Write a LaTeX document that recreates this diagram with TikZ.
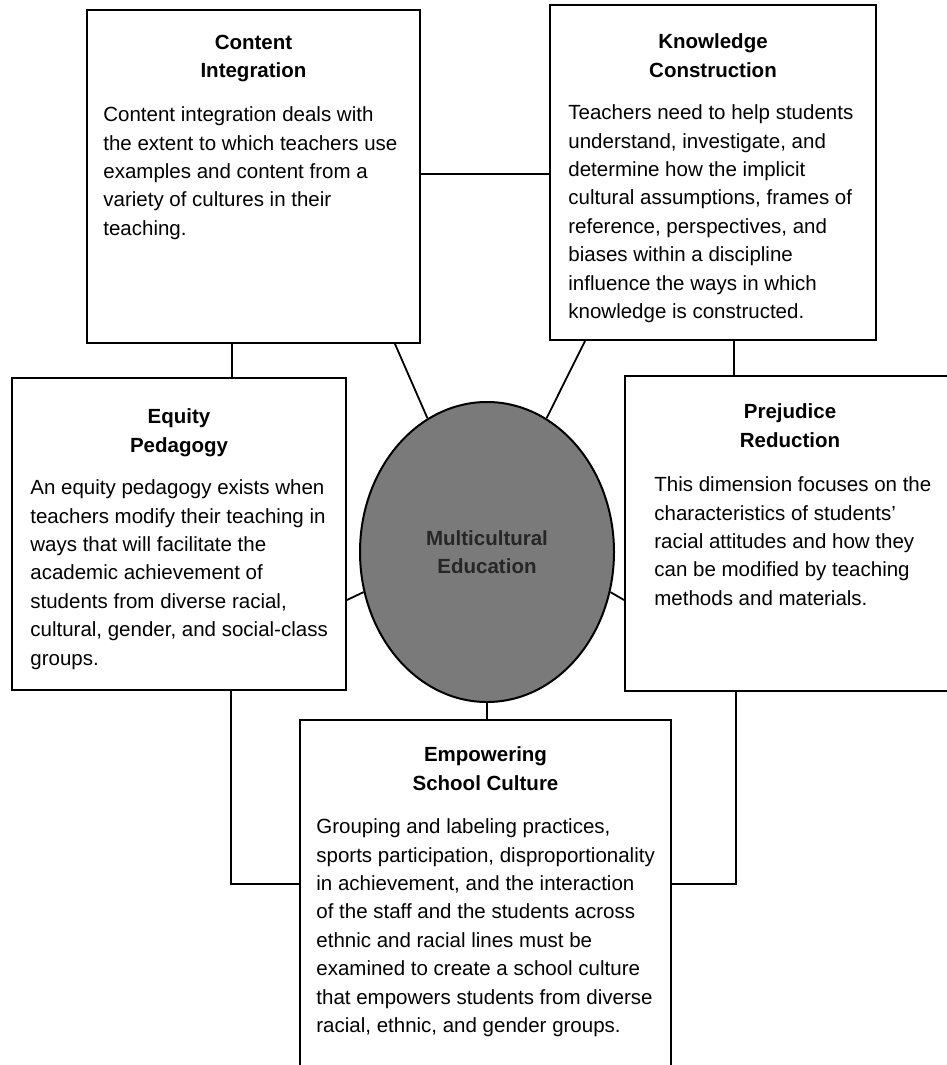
\documentclass[tikz,border=0pt]{standalone}
\usepackage{fontspec}
\setmainfont{Liberation Sans}
\usepackage{tikz}
\usetikzlibrary{shapes,arrows,positioning,calc}

\begin{document}
\begin{tikzpicture}[x=0.5pt,y=-0.5pt,
    dimbox/.style={draw, line width=1pt, inner sep=0pt, fill=white},
    dimtitle/.style={inner sep=0pt, align=center, font=\fontsize{10.25pt}{14.3pt}\selectfont\bfseries},
    dimtext/.style={inner sep=0pt, align=left, font=\fontsize{10.25pt}{14.2pt}\selectfont},
    link/.style={line width=0.9pt}]
    \useasboundingbox (0,0) rectangle (947,1065);
    \clip (0,0) rectangle (947,1065);

    % Boxes
    \node[dimbox, minimum width=166.5pt, minimum height=166.5pt] (ci) at (253.5,176.5) {};
    \node[dimbox, minimum width=163pt, minimum height=167.5pt] (kc) at (713,172.5) {};
    \node[dimbox, minimum width=167pt, minimum height=156pt] (ep) at (179,534) {};
    \node[dimbox, minimum width=165pt, minimum height=157.5pt] (pr) at (790,533.5) {};
    \node[dimbox, minimum width=185.5pt, minimum height=185pt] (esc) at (485.5,905) {};

    % Centre
    \node[ellipse, draw, line width=1pt, fill=black!52, minimum width=127pt, minimum height=150pt,
          inner sep=0pt, align=center, text=black!85,
          font=\fontsize{10.25pt}{14pt}\selectfont\bfseries] (me) at (487,552) {Multicultural\\Education};

    % Links
    \draw[link] ([yshift=1.25pt]ci.east) -- ([yshift=1.25pt]ci.east -| kc.west);
    \draw[link] ([xshift=-10.75pt]ci.south) -- ([xshift=-10.75pt]ci.south |- ep.north);
    \draw[link] ([xshift=10.5pt]kc.south) -- ([xshift=10.5pt]kc.south |- pr.north);
    \draw[link] ([xshift=-13pt]ci.south east) -- (me.114);
    \draw[link] ([xshift=18pt]kc.south west) -- (me.66);
    \draw[link] ([yshift=-33pt]ep.east) -- (me.198);
    \draw[link] ([yshift=-33.25pt]pr.west) -- (me.342);
    \draw[link] (me.south) -- (me.south |- esc.north);
    \draw[link] ([xshift=26pt]ep.south) |- ([yshift=10.5pt]esc.west);
    \draw[link] ([xshift=-27pt]pr.south) |- ([yshift=10.5pt]esc.east);

    % Content integration
    \node[dimtitle, below=12.75pt of ci.north] (cit) {Content\\Integration};
    \node[dimtext, below right=48.75pt and 8.5pt of ci.north west] (cib) {Content integration deals with\\
        the extent to which teachers use\\
        examples and content from a\\
        variety of cultures in their\\
        teaching.};

    % Knowledge construction
    \node[dimtitle, below=14.75pt of kc.north] (kct) {Knowledge\\Construction};
    \node[dimtext, below right=50.25pt and 9.5pt of kc.north west] (kcb) {Teachers need to help students\\
        understand, investigate, and\\
        determine how the implicit\\
        cultural assumptions, frames of\\
        reference, perspectives, and\\
        biases within a discipline\\
        influence the ways in which\\
        knowledge is constructed.};

    % Equity pedagogy
    \node[dimtitle, below=15.75pt of ep.north] (ept) {Equity\\Pedagogy};
    \node[dimtext, below right=51.25pt and 9.5pt of ep.north west] (epb) {An equity pedagogy exists when\\
        teachers modify their teaching in\\
        ways that will facilitate the\\
        academic achievement of\\
        students from diverse racial,\\
        cultural, gender, and social-class\\
        groups.};

    % Prejudice reduction
    \node[dimtitle, below=14.25pt of pr.north] (prt) {Prejudice\\Reduction};
    \node[dimtext, below right=50.75pt and 15pt of pr.north west] (prb) {This dimension focuses on the\\
        characteristics of students'\\
        racial attitudes and how they\\
        can be modified by teaching\\
        methods and materials.};

    % Empowering school culture
    \node[dimtitle, below=13.75pt of esc.north] (esct) {Empowering\\School Culture};
    \node[dimtext, below right=49.75pt and 8.5pt of esc.north west] (escb) {Grouping and labeling practices,\\
        sports participation, disproportionality\\
        in achievement, and the interaction\\
        of the staff and the students across\\
        ethnic and racial lines must be\\
        examined to create a school culture\\
        that empowers students from diverse\\
        racial, ethnic, and gender groups.};
\end{tikzpicture}
\end{document}
